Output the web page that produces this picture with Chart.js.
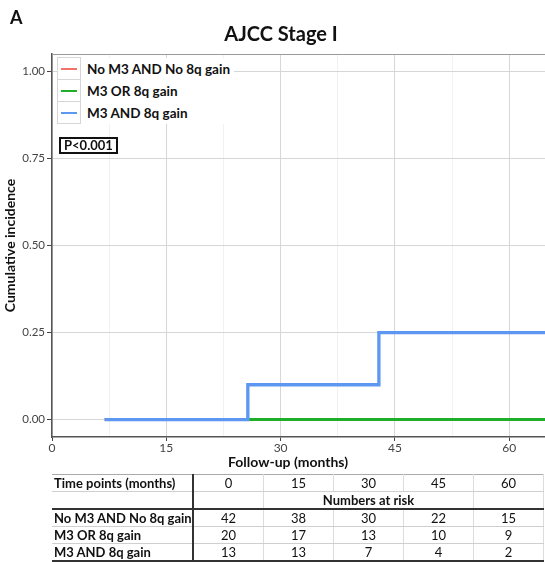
<!DOCTYPE html>
<html>
<head>
<meta charset="utf-8">
<script src="https://cdn.jsdelivr.net/npm/chart.js@4/dist/chart.umd.min.js"></script>
<style>
  body { margin: 0; background: #fff; font-family: "Lato", sans-serif; }
  #wrap { position: relative; width: 545px; height: 562px; overflow: hidden; }
  #plot { position: absolute; left: 0; top: 0; width: 545px; height: 470px; }
  .abs { position: absolute; color: #111; font-weight: bold; white-space: nowrap; }
  #panel { left: 10px; top: 6px; font-size: 18px; }
  #title { left: 0; width: 562px; top: 21px; font-size: 20px; text-align: center; }
  #xtitle { left: 0; width: 576px; top: 453px; font-size: 14px; text-align: center; }
  #legend { left: 57px; top: 58px; background: #fff; padding-right: 4px; }
  .lrow { display: flex; align-items: center; height: 22px; }
  .lsym { width: 22px; height: 21px; border: 1px solid #d6d6d6; margin-top: -1px; display: flex; align-items: center; justify-content: center; }
  .lsym span { display: block; width: 16px; height: 2px; }
  .ltxt { font-size: 13.5px; margin-left: 6px; color: #111; }
  #pval { left: 59px; top: 137px; border: 2px solid #111; font-size: 13px; padding: 0 3px; line-height: 13px; }
  #risk { position: absolute; left: 52px; top: 474px; border-collapse: collapse; font-size: 13px; color: #111; }
  #risk td { padding: 0; text-align: center; border-bottom: 1px solid #cfcfcf; border-left: 1px solid #dcdcdc; line-height: 14px; }
  #risk td.lab { text-align: left; font-weight: bold; width: 138px; padding-left: 2px; border-left: none; border-right: 2px solid #333; }
  #risk td.num { width: 69px; border-right: 1px solid #dcdcdc; }
  #risk tr.top td { border-top: 1px solid #aaa; }
  #risk tr.sep td { border-bottom: 2px solid #333; }
  #risk tr.last td { border-bottom: 2px solid #333; }
</style>
</head>
<body>
<div id="wrap">
  <div id="plot"><canvas id="km"></canvas></div>
  <div class="abs" id="panel">A</div>
  <div class="abs" id="title">AJCC Stage I</div>
  <div class="abs" id="xtitle">Follow-up (months)</div>
  <div class="abs" id="legend"></div>
  <div class="abs" id="pval">P&lt;0.001</div>
  <table id="risk"></table>
</div>
<script>
// groups
const groupNames = ["No M3 AND No 8q gain", "M3 OR 8q gain", "M3 AND 8q gain"];
const groupColors = ["#f4726a", "#1fae2a", "#5e97f2"];

// cumulative incidence steps (time in months, value)
const noneTimes = [6.9, 66];
const noneInc = [0, 0];
const orTimes = [25.7, 66];
const orInc = [0, 0];
const andTimes = [6.9, 25.7, 42.9, 66];
const andInc = [0, 0.1, 0.25, 0.25];

// axes
const xTicks = [0, 15, 30, 45, 60];
const yTicks = [0, 0.25, 0.5, 0.75, 1];

// numbers at risk table
const timePoints = [0, 15, 30, 45, 60];
const riskNone = [42, 38, 30, 22, 15];
const riskOr = [20, 17, 13, 10, 9];
const riskAnd = [13, 13, 7, 4, 2];

function pts(t, v) {
  return t.map((x, i) => ({ x: x, y: v[i] }));
}

const series = [
  { t: noneTimes, v: noneInc },
  { t: orTimes, v: orInc },
  { t: andTimes, v: andInc },
];

const xMinor = [];
xTicks.forEach((t, i) => {
  xMinor.push(t);
  if (i < xTicks.length - 1) xMinor.push((t + xTicks[i + 1]) / 2);
});

const frame = {
  id: "frame",
  afterDatasetsDraw(chart) {
    const a = chart.chartArea;
    const ctx = chart.ctx;
    ctx.save();
    ctx.strokeStyle = "#9a9a9a";
    ctx.lineWidth = 1;
    ctx.beginPath();
    ctx.moveTo(a.left, a.top + 0.5);
    ctx.lineTo(a.right, a.top + 0.5);
    ctx.stroke();
    ctx.restore();
  },
};

new Chart(document.getElementById("km"), {
  type: "line",
  data: {
    datasets: series.map((s, i) => ({
      label: groupNames[i],
      data: pts(s.t, s.v),
      borderColor: groupColors[i],
      borderWidth: i === 2 ? 3.3 : 3,
      stepped: "before",
      pointRadius: 0,
      fill: false,
      order: 2 - i,
    })),
  },
  options: {
    responsive: true,
    maintainAspectRatio: false,
    animation: false,
    layout: { padding: { top: 54, left: 0, right: 0, bottom: 0 } },
    plugins: {
      legend: { display: false },
      title: { display: false },
      tooltip: { enabled: false },
    },
    scales: {
      x: {
        type: "linear",
        min: 0,
        max: 64.7,
        afterBuildTicks: (s) => { s.ticks = xMinor.map((v) => ({ value: v })); },
        afterFit: (s) => { s.height = 33; },
        grid: {
          color: (c) => (xTicks.includes(c.tick.value) ? "#d6d6d6" : "#f1f1f1"),
          tickColor: (c) => (xTicks.includes(c.tick.value) ? "#444" : "rgba(0,0,0,0)"),
          tickLength: 4,
        },
        border: { color: "#555", width: 1.5 },
        ticks: {
          autoSkip: false,
          maxRotation: 0,
          padding: 0,
          color: "#444",
          font: { family: "Lato", size: 12 },
          callback: (v) => (xTicks.includes(v) ? String(v) : ""),
        },
      },
      y: {
        type: "linear",
        min: -0.05,
        max: 1.05,
        afterBuildTicks: (s) => { s.ticks = yTicks.map((v) => ({ value: v })); },
        afterFit: (s) => { s.width = 52; },
        grid: { color: "#d6d6d6", tickColor: "#444", tickLength: 5 },
        border: { color: "#555", width: 1.5 },
        ticks: {
          padding: 2,
          color: "#444",
          font: { family: "Lato", size: 11.5 },
          callback: (v) => v.toFixed(2),
        },
        title: {
          display: true,
          text: "Cumulative incidence",
          color: "#111",
          font: { family: "Lato", size: 14, weight: "bold" },
          padding: { top: 2, bottom: 0 },
        },
      },
    },
  },
  plugins: [frame],
});

// legend
const leg = document.getElementById("legend");
groupNames.forEach((n, i) => {
  const r = document.createElement("div");
  r.className = "lrow";
  r.innerHTML = '<div class="lsym"><span style="background:' + groupColors[i] + '"></span></div><div class="ltxt">' + n + "</div>";
  leg.appendChild(r);
});

// risk table
const tbl = document.getElementById("risk");
let html = '<tr class="top" style="height:17px"><td class="lab">Time points (months)</td>' +
  timePoints.map((t) => '<td class="num">' + t + "</td>").join("") + "</tr>";
html += '<tr class="sep" style="height:17px"><td class="lab"></td><td class="num"></td>' +
  '<td colspan="3" style="font-weight:bold">Numbers at risk</td><td class="num"></td></tr>';
const riskRows = [riskNone, riskOr, riskAnd];
riskRows.forEach((row, i) => {
  html += '<tr' + (i === riskRows.length - 1 ? ' class="last"' : "") + ' style="height:17.5px"><td class="lab">' + groupNames[i] + "</td>" +
    row.map((v) => '<td class="num">' + v + "</td>").join("") + "</tr>";
});
tbl.innerHTML = html;
</script>
</body>
</html>
